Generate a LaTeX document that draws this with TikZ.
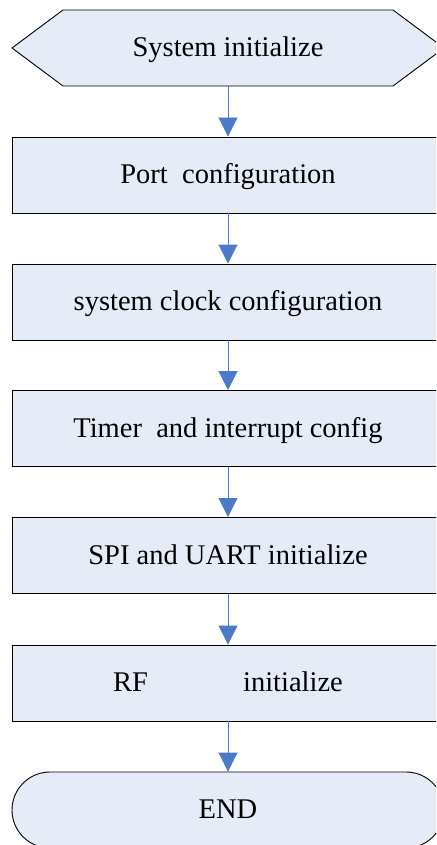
\documentclass[tikz,border=0pt]{standalone}
\usepackage{fontspec}
\setmainfont{Liberation Serif}
\usetikzlibrary{arrows.meta}
\definecolor{boxfill}{HTML}{E6ECF7}
\definecolor{flowblue}{HTML}{4A7AC8}
\tikzset{
  steptext/.style={minimum width=432pt, minimum height=76pt, inner sep=0pt,
    text height=17pt, text depth=0pt, font=\fontsize{28.5}{34}\selectfont},
  stepbox/.style={steptext, draw=black, line width=0.9pt, fill=boxfill},
  flow/.style={draw=flowblue, line width=0.9pt, -{Triangle[width=19pt,length=19pt]}, fill=flowblue}
}
\begin{document}
\begin{tikzpicture}[x=1pt,y=-1pt]
  \useasboundingbox (0,0) rectangle (436,845);
  \clip (0,0) rectangle (436,845);
  % start: hexagon outline, then its label on top
  \draw[line width=0.9pt, fill=boxfill] (12,48) -- (63,10) -- (393,10) -- (444,48)
     -- (393,86) -- (63,86) -- cycle;
  \node[steptext] (init) at (228,48) {System initialize};
  % process steps
  \node[stepbox] (port)  at (228,175)   {Port\ \ configuration};
  \node[stepbox] (clk)   at (228,302)   {system clock configuration};
  \node[stepbox] (timer) at (228,428.5) {Timer\ \ and interrupt config};
  \node[stepbox] (spi)   at (228,555.5) {SPI and UART initialize};
  \node[stepbox] (rf)    at (228,683)   {RF\hspace{95pt}initialize};
  % terminator
  \node[stepbox, rounded corners=38pt] (end) at (228,810) {END};
  % connectors
  \draw[flow] (init.south) -- (port.north);
  \draw[flow] (port) -- (clk);
  \draw[flow] (clk) -- (timer);
  \draw[flow] (timer) -- (spi);
  \draw[flow] (spi) -- (rf);
  \draw[flow] (rf) -- (end);
\end{tikzpicture}
\end{document}
